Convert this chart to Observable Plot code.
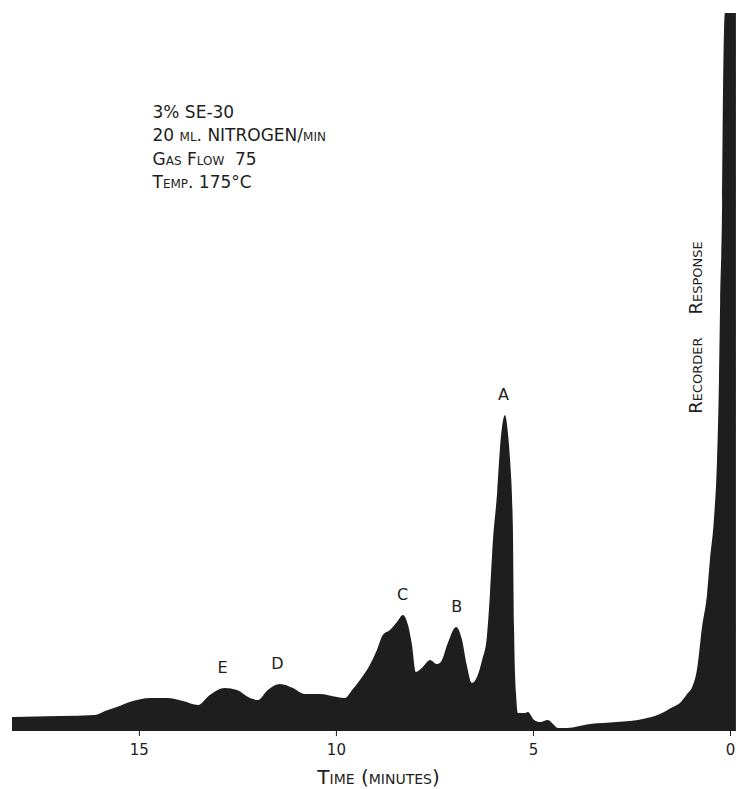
<!DOCTYPE html>
<html>
<head>
<meta charset="utf-8">
<script src="https://cdn.jsdelivr.net/npm/d3@7"></script>
<script src="https://cdn.jsdelivr.net/npm/@observablehq/plot@0.6"></script>
<style>
  html, body { margin: 0; padding: 0; background: #fff; }
  #chart svg { display: block; }
</style>
</head>
<body>
<div id="chart"></div>
<script>
// Retention time (minutes) and recorder response (% of full scale)
const time = [18.22, 17.01, 16.12, 15.86, 15.56, 15.15, 14.72, 14.29, 13.88, 13.50,
  13.20, 12.82, 12.51, 12.18, 11.98, 11.73, 11.42, 11.09, 10.79, 10.41,
  9.97, 9.77, 9.59, 9.39, 9.14, 8.96, 8.81, 8.63, 8.45, 8.30,
  8.17, 8.07, 7.97, 7.82, 7.61, 7.44, 7.34, 7.16, 6.95, 6.80,
  6.68, 6.55, 6.42, 6.29, 6.17, 6.09, 6.02, 5.91, 5.84, 5.71,
  5.63, 5.58, 5.51, 5.48, 5.43, 5.38, 5.20, 5.13, 4.97, 4.82,
  4.62, 4.49, 4.37, 4.14, 3.55, 2.87, 2.21, 1.78, 1.45, 1.27,
  1.09, 0.96, 0.84, 0.71, 0.58, 0.51, 0.41, 0.33, 0.28, 0.25,
  0.20, 0.18, 0.13, -0.15];
const response = [1.95, 2.09, 2.23, 2.79, 3.34, 4.18, 4.60, 4.60, 4.18, 3.62,
  5.01, 5.99, 5.71, 4.60, 4.32, 5.71, 6.55, 5.99, 5.15, 5.15,
  4.74, 4.60, 5.71, 7.10, 9.19, 11.28, 13.37, 14.07, 15.18, 16.16,
  14.76, 11.98, 8.22, 8.77, 9.89, 9.33, 9.61, 12.26, 14.48, 12.67,
  9.19, 6.69, 7.52, 9.89, 13.09, 19.22, 26.18, 33.15, 39.14, 44.01,
  41.2, 37.74, 28.41, 14.48, 5.29, 2.51, 2.51, 2.65, 1.53, 1.25,
  1.53, 0.97, 0.42, 0.42, 0.97, 1.25, 1.67, 2.37, 3.34, 3.90,
  5.15, 6.13, 8.50, 14.48, 19.22, 23.82, 29.39, 37.7, 48.9, 60.0,
  73.96, 87.9, 100, 100];

const peakLabels = ["A", "B", "C", "D", "E"];
const peakTimes = [5.76, 6.95, 8.32, 11.50, 12.89];
const tickValues = [15, 10, 5, 0];
const conditions = ["3% SE-30", "20 ml. NITROGEN/min", "Gas Flow  75", "Temp. 175°C"];
const yTitle = "Recorder    Response";
const xTitle = "Time (minutes)";

const series = time.map((t, i) => ({t, v: response[i]}));
const peaks = peakLabels.map((label, i) => {
  const t = peakTimes[i];
  const near = series.filter(d => Math.abs(d.t - t) < 0.35);
  return {label, t, v: d3.max(near, d => d.v)};
});

const ink = "#1e1e1e";
const chart = Plot.plot({
  width: 739,
  height: 789,
  marginTop: 13,
  marginBottom: 58,
  marginLeft: 10,
  marginRight: 3,
  style: {fontFamily: "DejaVu Sans", color: ink, background: "#fff"},
  x: {domain: [18.27, -0.152]},
  y: {domain: [0, 100], axis: null},
  marks: [
    Plot.areaY(series, {x: "t", y: "v", fill: ink, curve: "monotone-x"}),
    Plot.axisX({ticks: tickValues, tickSize: 5, tickPadding: 8, fontSize: 15, label: null, stroke: ink}),
    Plot.text(peaks, {x: "t", y: "v", text: "label", dy: -21, fontSize: 16, fill: ink}),
    Plot.text([conditions.join("\n")], {
      frameAnchor: "top-left", dx: 142, dy: 88, lineAnchor: "top", textAnchor: "start",
      fontSize: 17, lineHeight: 1.37, fontVariant: "small-caps", fill: ink
    }),
    Plot.text([yTitle], {
      frameAnchor: "top-right", rotate: -90, dx: -40, dy: 314,
      textAnchor: "middle", lineAnchor: "middle",
      fontSize: 18, fontVariant: "small-caps", fill: ink
    }),
    Plot.text([xTitle], {
      frameAnchor: "bottom", dx: 5, dy: 46, lineAnchor: "middle", textAnchor: "middle",
      fontSize: 20, fontVariant: "small-caps", fill: ink
    })
  ]
});
document.getElementById("chart").append(chart);
</script>
</body>
</html>
